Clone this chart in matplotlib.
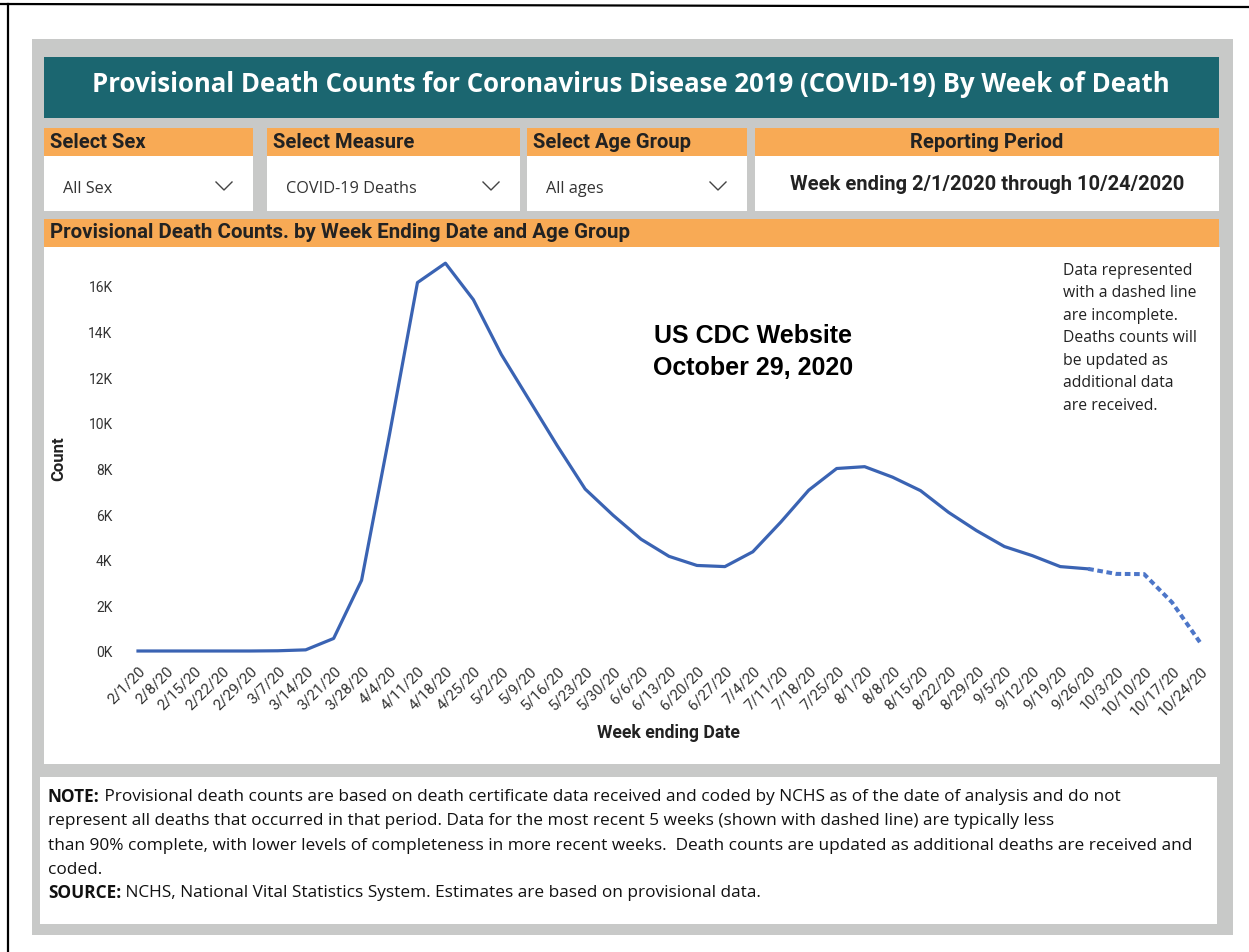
import numpy as np
import matplotlib
matplotlib.use("Agg")
import matplotlib.pyplot as plt
from matplotlib.patches import Rectangle

# weekly provisional COVID-19 death counts, week ending 2/1/2020 .. 10/24/2020
week_labels = ["2/1/20", "2/8/20", "2/15/20", "2/22/20", "2/29/20", "3/7/20", "3/14/20",
               "3/21/20", "3/28/20", "4/4/20", "4/11/20", "4/18/20", "4/25/20", "5/2/20",
               "5/9/20", "5/16/20", "5/23/20", "5/30/20", "6/6/20", "6/13/20", "6/20/20",
               "6/27/20", "7/4/20", "7/11/20", "7/18/20", "7/25/20", "8/1/20", "8/8/20",
               "8/15/20", "8/22/20", "8/29/20", "9/5/20", "9/12/20", "9/19/20", "9/26/20",
               "10/3/20", "10/10/20", "10/17/20", "10/24/20"]
deaths = [0, 0, 0, 0, 0, 10, 50,
          550, 3100, 9500, 16150, 17000, 15400, 13000,
          11000, 9000, 7100, 5950, 4900, 4150, 3750,
          3700, 4350, 5650, 7050, 8000, 8080, 7620,
          7030, 6080, 5280, 4580, 4180, 3700, 3600,
          3380, 3370, 2130, 380]
n_incomplete = 5  # most recent weeks, drawn dashed

y_ticks = [0, 2000, 4000, 6000, 8000, 10000, 12000, 14000, 16000]
y_tick_labels = ["0K", "2K", "4K", "6K", "8K", "10K", "12K", "14K", "16K"]

title = "Provisional Death Counts for Coronavirus Disease 2019 (COVID-19) By Week of Death"
headers = ["Select Sex", "Select Measure", "Select Age Group", "Reporting Period"]
selections = ["All Sex", "COVID-19 Deaths", "All ages"]
period_text = "Week ending 2/1/2020 through 10/24/2020"
subtitle = "Provisional Death Counts. by Week Ending Date and Age Group"
side_note = ("Data represented\nwith a dashed line\nare incomplete.\nDeaths counts will\n"
             "be updated as\nadditional data\nare received.")
stamp = "US CDC Website\nOctober 29, 2020"
note_lines = [
    ("NOTE:", " Provisional death counts are based on death certificate data received and coded by NCHS as of the date of analysis and do not"),
    ("", "represent all deaths that occurred in that period. Data for the most recent 5 weeks (shown with dashed line) are typically less"),
    ("", "than 90% complete, with lower levels of completeness in more recent weeks.  Death counts are updated as additional deaths are received and"),
    ("", "coded."),
    ("SOURCE:", " NCHS, National Vital Statistics System. Estimates are based on provisional data."),
]

TEAL = "#1b6670"
ORANGE = "#f8aa55"
PANEL = "#c8c9c8"
LINE = "#3a63b3"
DASH = "#4d76c8"
TXT = "#222222"

W, H = 1249, 953
fig = plt.figure(figsize=(W / 100, H / 100), dpi=100)
bg = fig.add_axes([0, 0, 1, 1])
bg.set_xlim(0, W)
bg.set_ylim(H, 0)
bg.axis("off")


def box(x0, y0, x1, y1, color):
    bg.add_patch(Rectangle((x0, y0), x1 - x0, y1 - y0, facecolor=color, edgecolor="none"))


# page border
bg.plot([0, W], [5, 8], color="black", lw=1.6)
bg.plot([8, 8], [5, H], color="black", lw=1.6)

# dashboard frame
box(32, 40, 1233, 936, PANEL)
box(44, 58, 1219, 119, TEAL)
bg.text(631, 85, title, color="white", fontsize=18.5, fontweight="bold",
        family=["Open Sans", "DejaVu Sans"], ha="center", va="center")

# slicers
slots = [(44, 253), (267, 520), (527, 747), (755, 1219)]
for (x0, x1), head in zip(slots, headers):
    box(x0, 129, x1, 157, ORANGE)
    box(x0, 157, x1, 212, "white")
    if head == "Reporting Period":
        bg.text((x0 + x1) / 2, 143, head, color=TXT, fontsize=14.5, fontweight="bold",
                family=["Roboto", "DejaVu Sans"], ha="center", va="center")
    else:
        bg.text(x0 + 6, 143, head, color=TXT, fontsize=14.5, fontweight="bold",
                family=["Roboto", "DejaVu Sans"], ha="left", va="center")

for (x0, x1), sel in zip(slots[:3], selections):
    bg.text(x0 + 19, 189, sel, color="#333333", fontsize=11.7,
            family=["Open Sans", "DejaVu Sans"], ha="left", va="center")
    cx = x1 - 29
    bg.plot([cx - 8, cx, cx + 8], [183, 191, 183], color="#444444", lw=1.0)

bg.text(987, 185, period_text, color=TXT, fontsize=14.5, fontweight="bold",
        family=["Roboto", "DejaVu Sans"], ha="center", va="center")

# chart panel
box(44, 220, 1219, 248, ORANGE)
bg.text(50, 233, subtitle, color=TXT, fontsize=14.8, fontweight="bold",
        family=["Roboto", "DejaVu Sans"], ha="left", va="center")
box(44, 248, 1220, 765, "white")

bg.text(59, 459, "Count", color=TXT, fontsize=12, fontweight="bold",
        family=["Roboto", "DejaVu Sans"], rotation=90, ha="center", va="center")
bg.text(668, 733, "Week ending Date", color=TXT, fontsize=12.7, fontweight="bold",
        family=["Roboto", "DejaVu Sans"], ha="center", va="center")
bg.text(753, 352, stamp, color="black", fontsize=18, fontweight="bold",
        family=["Liberation Sans", "DejaVu Sans"], ha="center", va="center", linespacing=1.38)
bg.text(1063, 263, side_note, color=TXT, fontsize=11.3,
        family=["Open Sans", "DejaVu Sans"], ha="left", va="top", linespacing=1.54)

# line chart, placed so week 0 sits at x=138 and week 38 at x=1200
ax_l, ax_r, ax_t, ax_b = 125, 1215, 255, 660
ax = fig.add_axes([ax_l / W, 1 - ax_b / H, (ax_r - ax_l) / W, (ax_b - ax_t) / H])
ax.patch.set_alpha(0)
x = np.arange(len(deaths))
px_x = (1200 - 138) / (len(deaths) - 1)
px_y = (652 - 287) / 16000
ax.set_xlim(-(138 - ax_l) / px_x, len(deaths) - 1 + (ax_r - 1200) / px_x)
ax.set_ylim(-(ax_b - 652) / px_y, (652 - ax_t) / px_y)

split = len(deaths) - n_incomplete
ax.plot(x[:split + 1], deaths[:split + 1], color=LINE, lw=2.3, solid_joinstyle="round")
ax.plot(x[split:], deaths[split:], color=DASH, lw=2.9,
        linestyle=(0, (1.4, 0.9)), dash_capstyle="butt")

ax.set_yticks(y_ticks)
ax.set_yticklabels(y_tick_labels, fontsize=10, color="#333333", family=["Roboto", "DejaVu Sans"])
ax.set_xticks(x)
ax.set_xticklabels(week_labels, fontsize=10.8, color="#333333", family=["Roboto", "DejaVu Sans"],
                   rotation=45, ha="right", rotation_mode="anchor")
ax.tick_params(axis="y", length=0, pad=9)
ax.tick_params(axis="x", length=0, pad=3)
for s in ax.spines.values():
    s.set_visible(False)

# notes box
box(40, 778, 1217, 925, "white")
renderer = fig.canvas.get_renderer()
note_y = [797, 821, 846, 870, 893]
for (bold, rest), yy in zip(note_lines, note_y):
    xx = 48
    if bold:
        t = bg.text(xx, yy, bold, color="#111111", fontsize=12.4, fontweight="bold",
                    family=["Open Sans", "DejaVu Sans"], ha="left", va="center")
        bb = t.get_window_extent(renderer)
        xx += bb.width
    bg.text(xx, yy, rest, color="#111111", fontsize=12.4,
            family=["Open Sans", "DejaVu Sans"], ha="left", va="center")

fig.savefig("out.png", dpi=100, facecolor="white")
